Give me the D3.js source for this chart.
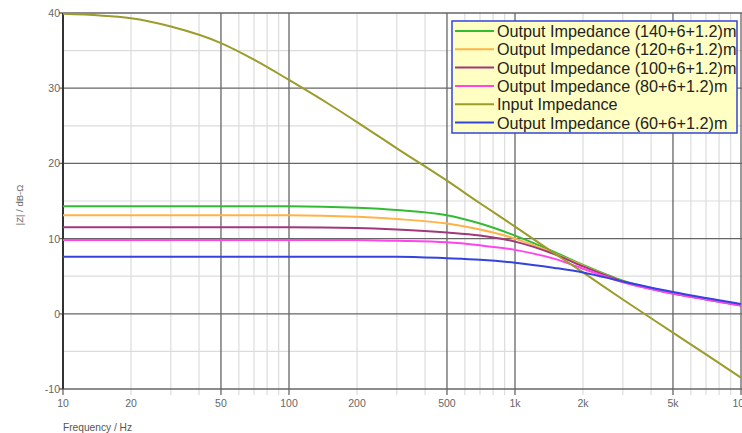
<!DOCTYPE html>
<html>
<head>
<meta charset="utf-8">
<script src="https://cdn.jsdelivr.net/npm/d3@7"></script>
<style>
  body { margin: 0; background: white; }
  svg { display: block; font-family: "Liberation Sans", Arial, sans-serif; }
</style>
</head>
<body>
<div id="chart"></div>
<script>
// frequencies (Hz) for the output impedance curves
const freqOut = [10, 20, 50, 100, 200, 300, 500, 700, 1000, 1500, 2000, 3000, 5000, 7000, 10000];
const z140 = [14.3, 14.3, 14.3, 14.3, 14.1, 13.8, 13.1, 12.0, 10.4, 8.2, 6.5, 4.4, 2.8, 2.0, 1.2];
const z120 = [13.1, 13.1, 13.1, 13.1, 12.9, 12.6, 12.0, 11.2, 10.0, 8.0, 6.4, 4.3, 2.8, 2.0, 1.2];
const z100 = [11.5, 11.5, 11.5, 11.5, 11.4, 11.2, 10.8, 10.4, 9.6, 7.9, 6.3, 4.3, 2.7, 1.9, 1.1];
const z80 = [9.8, 9.8, 9.8, 9.8, 9.8, 9.7, 9.5, 9.1, 8.5, 7.3, 6.0, 4.2, 2.7, 1.9, 1.1];
const z60 = [7.6, 7.6, 7.6, 7.6, 7.6, 7.6, 7.4, 7.2, 6.8, 6.1, 5.5, 4.3, 2.9, 2.1, 1.3];

// input impedance
const freqIn = [10, 20, 30, 50, 70, 100, 150, 200, 300, 500, 700, 1000, 1500, 2000, 3000, 5000, 7000, 10000];
const zIn = [39.9, 39.3, 38.2, 36.0, 33.8, 31.1, 27.9, 25.5, 22.0, 17.7, 14.7, 11.6, 8.0, 5.5, 1.9, -2.5, -5.4, -8.5];

const seriesNames = [
  "Output Impedance (140+6+1.2)m",
  "Output Impedance (120+6+1.2)m",
  "Output Impedance (100+6+1.2)m",
  "Output Impedance (80+6+1.2)m",
  "Input Impedance",
  "Output Impedance (60+6+1.2)m"
];
const seriesColors = ["#33bb33", "#ffb347", "#a0387a", "#ff44ee", "#9c9c2c", "#3344dd"];

const xTickValues = [10, 20, 50, 100, 200, 500, 1000, 2000, 5000, 10000];
const xTickLabels = ["10", "20", "50", "100", "200", "500", "1k", "2k", "5k", "10k"];
const yTickValues = [-10, 0, 10, 20, 30, 40];

const width = 742;
const height = 433;
const margin = { top: 13, right: 1, bottom: 44, left: 63 };

const series = [
  { freq: freqOut, vals: z140 },
  { freq: freqOut, vals: z120 },
  { freq: freqOut, vals: z100 },
  { freq: freqOut, vals: z80 },
  { freq: freqIn, vals: zIn },
  { freq: freqOut, vals: z60 }
].map((s, i) => ({
  name: seriesNames[i],
  color: seriesColors[i],
  points: s.freq.map((f, j) => ({ f, v: s.vals[j] }))
}));

const svg = d3.select("#chart")
  .append("svg")
  .attr("width", width)
  .attr("height", height);

const x = d3.scaleLog()
  .domain([10, 10000])
  .range([margin.left, 741]);

const y = d3.scaleLinear()
  .domain([-10, 40])
  .range([389, margin.top]);

// grid
const minorX = [], majorX = [];
for (let dec = 10; dec < 10000; dec *= 10) {
  for (let m = 1; m < 10; m++) {
    const f = dec * m;
    if (m === 1 || m === 5) majorX.push(f); else minorX.push(f);
  }
}
majorX.push(10000);
const minorY = [-5, 5, 15, 25, 35];

const grid = svg.append("g");
grid.selectAll(".vminor").data(minorX).enter().append("line")
  .attr("x1", d => x(d)).attr("x2", d => x(d))
  .attr("y1", y(40)).attr("y2", y(-10) + 6)
  .attr("stroke", "#dcdcdc").attr("stroke-width", 1.2);
grid.selectAll(".hminor").data(minorY).enter().append("line")
  .attr("x1", x(10)).attr("x2", width)
  .attr("y1", d => y(d)).attr("y2", d => y(d))
  .attr("stroke", "#dcdcdc").attr("stroke-width", 1.2);
grid.selectAll(".vmajor").data(majorX).enter().append("line")
  .attr("x1", d => x(d)).attr("x2", d => x(d))
  .attr("y1", y(40)).attr("y2", y(-10) + 6)
  .attr("stroke", "#666").attr("stroke-width", 1.3);
grid.selectAll(".hmajor").data(yTickValues).enter().append("line")
  .attr("x1", x(10) - 4).attr("x2", width)
  .attr("y1", d => y(d)).attr("y2", d => y(d))
  .attr("stroke", "#666").attr("stroke-width", 1.3);

// left axis line
svg.append("line")
  .attr("x1", x(10)).attr("x2", x(10))
  .attr("y1", y(40)).attr("y2", y(-10))
  .attr("stroke", "#333").attr("stroke-width", 2);

// tick labels
svg.append("g").selectAll("text").data(yTickValues).enter().append("text")
  .attr("x", x(10) - 3)
  .attr("y", d => y(d) + 4)
  .attr("text-anchor", "end")
  .attr("font-size", "10.5px")
  .attr("fill", "#666")
  .text(d => d);

svg.append("g").selectAll("text").data(xTickValues).enter().append("text")
  .attr("x", d => x(d))
  .attr("y", 407)
  .attr("text-anchor", "middle")
  .attr("font-size", "10.5px")
  .attr("fill", "#666")
  .text((d, i) => xTickLabels[i]);

svg.append("text")
  .attr("x", 63)
  .attr("y", 431)
  .attr("font-size", "10.2px")
  .attr("fill", "#555")
  .text("Frequency / Hz");

svg.append("text")
  .attr("transform", "translate(23,205) rotate(-90)")
  .attr("text-anchor", "middle")
  .attr("font-size", "9.5px")
  .attr("fill", "#666")
  .text("|Z| / dB-Ω");

// curves
const line = d3.line()
  .x(d => x(d.f))
  .y(d => y(d.v))
  .curve(d3.curveMonotoneX);

svg.append("g").selectAll("path").data(series).enter().append("path")
  .attr("d", d => line(d.points))
  .attr("fill", "none")
  .attr("stroke", d => d.color)
  .attr("stroke-width", 2);

// legend
const legend = svg.append("g").attr("transform", "translate(452,21)");
legend.append("rect")
  .attr("width", 285)
  .attr("height", 112)
  .attr("fill", "#ffffc4")
  .attr("stroke", "#3344dd")
  .attr("stroke-width", 1.5);

const rows = legend.selectAll(".row").data(series).enter().append("g")
  .attr("transform", (d, i) => `translate(0,${10 + i * 18.3})`);
rows.append("line")
  .attr("x1", 3).attr("x2", 42)
  .attr("y1", 0).attr("y2", 0)
  .attr("stroke", d => d.color)
  .attr("stroke-width", 2);
rows.append("text")
  .attr("x", 45)
  .attr("y", 6)
  .attr("font-size", "16.2px")
  .attr("fill", "#222")
  .text(d => d.name);
</script>
</body>
</html>
